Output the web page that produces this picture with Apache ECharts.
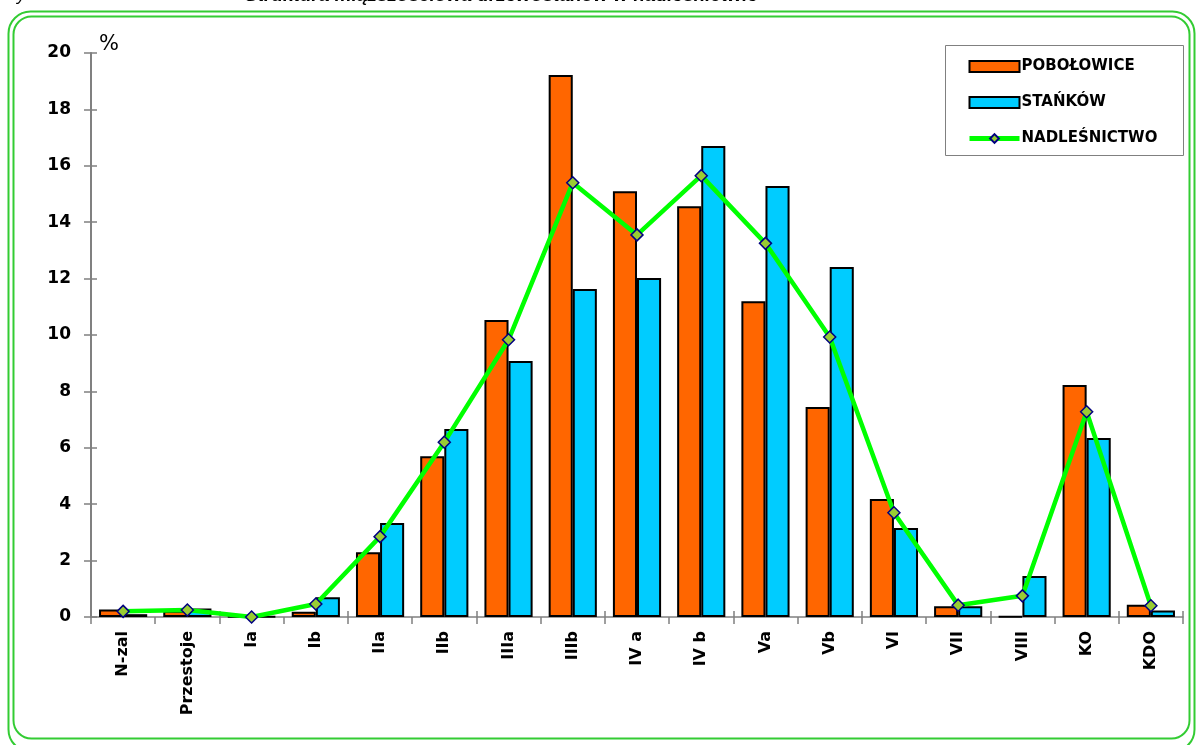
<!DOCTYPE html>
<html>
<head>
<meta charset="utf-8">
<script src="https://cdn.jsdelivr.net/npm/echarts@6/dist/echarts.min.js"></script>
<style>
html,body{margin:0;padding:0;background:#fff;}
#chart{width:1197px;height:745px;}
</style>
</head>
<body>
<div id="chart"></div>
<script>
var categories = ['N-zal','Przestoje','Ia','Ib','IIa','IIb','IIIa','IIIb','IV a','IV b','Va','Vb','VI','VII','VIII','KO','KDO'];
var pobolowice = [0.27,0.22,0.02,0.19,2.3,5.7,10.53,19.22,15.1,14.57,11.2,7.45,4.18,0.38,0.02,8.23,0.43];
var stankow = [0.1,0.3,0.02,0.7,3.33,6.67,9.08,11.63,12.02,16.7,15.28,12.41,3.16,0.38,1.45,6.35,0.23];
var nadlesnictwo = [0.2,0.25,0.0,0.46,2.85,6.2,9.83,15.4,13.55,15.65,13.25,9.93,3.7,0.42,0.75,7.28,0.4];
var yTicks = [0,2,4,6,8,10,12,14,16,18,20];

var chart = echarts.init(document.getElementById('chart'));
var FONT = 'DejaVu Sans';
var option = {
  animation: false,
  backgroundColor: '#ffffff',
  graphic: [
    {type:'rect', shape:{x:8.5,y:11.5,width:1186,height:740,r:22}, style:{fill:'none',stroke:'#33CC33',lineWidth:2}, z:0},
    {type:'rect', shape:{x:13.5,y:16.5,width:1176,height:722,r:18}, style:{fill:'none',stroke:'#33CC33',lineWidth:2}, z:0},
    {type:'text', left:0, top:-14, style:{text:'Wykres nr 10.', font:'italic 18px "Liberation Sans"', fill:'#000'}},
    {type:'text', left:245, top:-14, style:{text:'Struktura miąższościowa drzewostanów w nadleśnictwie', font:'italic bold 19px "Liberation Sans"', fill:'#000'}},
    {type:'rect', shape:{x:945.5,y:45.5,width:238,height:110}, style:{fill:'#fff',stroke:'#808080',lineWidth:1}, z:5}
  ],
  legend: {
    orient:'vertical', left:962, top:54, itemWidth:50, itemHeight:11, itemGap:21,
    z:10,
    textStyle:{fontFamily:FONT, fontWeight:'bold', fontSize:15, color:'#000', padding:[0,0,0,-3]},
    data:[
      {name:'POBOŁOWICE', icon:'rect'},
      {name:'STAŃKÓW', icon:'rect'},
      {name:'NADLEŚNICTWO', lineStyle:{width:5, color:'#00FF00'}}
    ]
  },
  grid: {left:91, right:14, top:53, bottom:128, containLabel:false},
  xAxis: [
    {type:'category', data:categories, boundaryGap:true,
     axisLine:{lineStyle:{color:'#808080', width:1.5}},
     axisTick:{show:true, length:7, lineStyle:{color:'#808080', width:1.5}},
     axisLabel:{rotate:90, fontFamily:FONT, fontWeight:'bold', fontSize:16, color:'#000', margin:14, interval:0}},
    {type:'category', data:categories, position:'bottom', boundaryGap:true,
     axisLine:{show:false},
     axisTick:{show:true, inside:true, length:6, lineStyle:{color:'#808080', width:1.5}},
     axisLabel:{show:false}}
  ],
  yAxis: [
    {type:'value', min:yTicks[0], max:yTicks[yTicks.length-1], interval:2,
     name:'%', nameLocation:'end', nameGap:-2,
     nameTextStyle:{fontFamily:FONT, fontSize:21, color:'#000', align:'left', padding:[0,0,0,8]},
     axisLine:{show:true, lineStyle:{color:'#808080', width:2}},
     axisTick:{show:true, length:7, lineStyle:{color:'#808080', width:1.5}},
     splitLine:{show:false},
     axisLabel:{fontFamily:FONT, fontWeight:'bold', fontSize:17, color:'#000', margin:20}},
    {type:'value', min:yTicks[0], max:yTicks[yTicks.length-1], interval:2, position:'left',
     axisLine:{show:false},
     axisTick:{show:true, inside:true, length:6, lineStyle:{color:'#808080', width:1.5}},
     splitLine:{show:false}, axisLabel:{show:false}}
  ],
  series: [
    {name:'POBOŁOWICE', type:'bar', data:pobolowice, barGap:'0%', barCategoryGap:'25%',
     itemStyle:{color:'#FF6600', borderColor:'#000', borderWidth:2}, z:2},
    {name:'STAŃKÓW', type:'bar', data:stankow,
     itemStyle:{color:'#00CCFF', borderColor:'#000', borderWidth:2}, z:2},
    {name:'NADLEŚNICTWO', type:'line', data:nadlesnictwo, symbol:'diamond', symbolSize:12,
     lineStyle:{color:'#00FF00', width:4.5},
     itemStyle:{color:'#99CC33', borderColor:'#000080', borderWidth:1.5}, z:4}
  ]
};
chart.setOption(option);
</script>
</body>
</html>
